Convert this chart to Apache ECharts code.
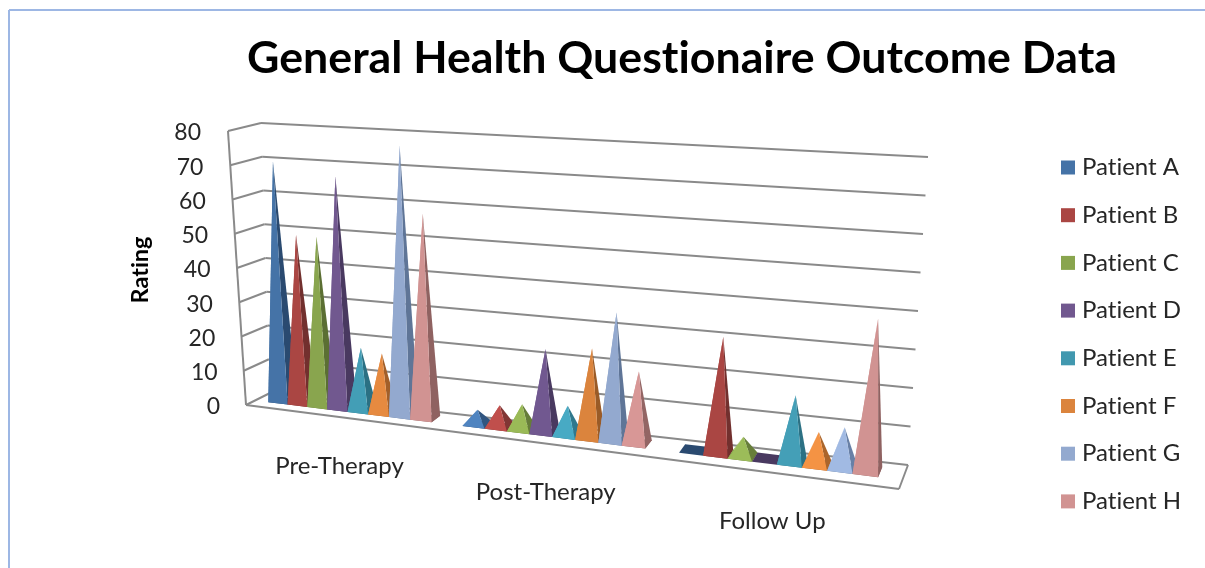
<!DOCTYPE html>
<html>
<head>
<meta charset="utf-8">
<style>html,body{margin:0;padding:0;background:#fff}#c{width:1205px;height:568px}</style>
<script src="https://cdn.jsdelivr.net/npm/echarts@6/dist/echarts.min.js"></script>
</head>
<body>
<div id="c"></div>
<script>
var categories = ['Pre-Therapy', 'Post-Therapy', 'Follow Up'];
var yTicks = [0, 10, 20, 30, 40, 50, 60, 70, 80];
var patientNames = ['Patient A', 'Patient B', 'Patient C', 'Patient D', 'Patient E', 'Patient F', 'Patient G', 'Patient H'];
var patientA = [70, 4, 0];
var patientB = [49, 6, 31];
var patientC = [49, 7, 5];
var patientD = [67, 23, 0];
var patientE = [18, 8, 17.5];
var patientF = [17, 24.5, 8.5];
var patientG = [77, 35, 10.5];
var patientH = [58, 19.5, 39.5];
var patients = [patientA, patientB, patientC, patientD, patientE, patientF, patientG, patientH];
var colors = ['#4573A7', '#AA4643', '#89A54E', '#71588F', '#4198AF', '#DB843D', '#93A9CF', '#D19392'];
var darks = ['#2A4A70', '#72302E', '#5B6F33', '#493960', '#2A6C7E', '#9A5B27', '#5F7597', '#8F6261'];

// Plain glyphs, no "ti" ligature in the canvas text
var getCtx = HTMLCanvasElement.prototype.getContext;
HTMLCanvasElement.prototype.getContext = function () {
  var ctx = getCtx.apply(this, arguments);
  if (ctx && 'textRendering' in ctx) { ctx.textRendering = 'optimizeSpeed'; }
  return ctx;
};

// Oblique view of the plot box, corners in screen space
var FL0 = [246, 405], FL1 = [228, 131], BL0 = [270, 393], BL1 = [261, 123];
var FR0 = [899, 489], FR1 = [928, 176], BR0 = [908, 465], BR1 = [928, 157];
var YMAX = 80, NCAT = categories.length;

function warp(t) {
  var near = Math.max(0, 1 - t);
  return -0.0075 + 0.2879 * t + 0.01475 * t * t + 0.006 * near * near;
}
function lerp(a, b, f) { return a + (b - a) * f; }
function lerp2(a, b, f) { return [lerp(a[0], b[0], f), lerp(a[1], b[1], f)]; }
// u: 0..1 along the front, d: depth 0..1, v: 0..1 of the value axis
function projectU(u, d, v) {
  var left = lerp2(lerp2(FL0, BL0, d), lerp2(FL1, BL1, d), v);
  var right = lerp2(lerp2(FR0, BR0, d), lerp2(FR1, BR1, d), v);
  return lerp2(left, right, u);
}
function project(t, d, v) { return projectU(warp(t), d, v); }
function norm(params, api, cat, val) {
  var p = api.coord([cat, val]), g = params.coordSys;
  return [(p[0] - g.x) / g.width * NCAT, (g.y + g.height - p[1]) / g.height];
}
function poly(points, fill) {
  return { type: 'polygon', silent: true, shape: { points: points }, style: { fill: fill } };
}
function line(a, b) {
  return { type: 'line', silent: true, shape: { x1: a[0], y1: a[1], x2: b[0], y2: b[1] },
    style: { stroke: '#8a8a8a', lineWidth: 2 } };
}

var startGap = 0.08, span = 0.85, D0 = 0.37, D1 = 0.8;
function pyramid(s) {
  return function (params, api) {
    var n = norm(params, api, api.value(0), api.value(1));
    var t0 = n[0] - 0.5 + startGap + span * s / patients.length;
    var t1 = t0 + span / patients.length;
    var f1 = project(t0, D0, 0), f2 = project(t1, D0, 0);
    var b1 = project(t0, D1, 0), b2 = project(t1, D1, 0);
    var base = poly([f1, f2, b2, b1], darks[s]);
    if (n[1] < 0.005) { return { type: 'group', children: [base] }; }
    var a = project((t0 + t1) / 2, (D0 + D1) / 2, n[1]);
    var lift = -0.18 * Math.max(0, 1 - n[1] / 0.3);
    var face = echarts.color.lift(colors[s], lift);
    var side = echarts.color.lift(darks[s], lift);
    return { type: 'group', children: [
      base,
      poly([f1, b1, a], face),
      poly([f2, b2, a], side),
      poly([f1, f2, a], face)
    ] };
  };
}
function frame(params, api) {
  var n = norm(params, api, 0, api.value(0));
  var v = n[1];
  var kids = [
    line(projectU(0, 0, v), projectU(0, 1, v)),
    line(projectU(0, 1, v), projectU(1, 1, v))
  ];
  if (api.value(0) === 0) {
    kids.push(line(projectU(0, 0, 0), projectU(1, 0, 0)));
    kids.push(line(projectU(1, 0, 0), projectU(1, 1, 0)));
    kids.push(line(projectU(0, 0, 0), projectU(0, 0, 1)));
  }
  return { type: 'group', children: kids };
}
function catLabel(params, api) {
  var n = norm(params, api, api.value(0), 0);
  var p = project(n[0], 0, 0);
  return { type: 'text', silent: true, style: {
    text: categories[api.value(0)], x: p[0] + 1, y: p[1] + 49,
    fill: '#262626', font: '24px Lato', align: 'center', verticalAlign: 'middle' } };
}

var rich = { v: { fontFamily: 'Lato', fontSize: 23, color: '#262626' } };
yTicks.forEach(function (k) { rich['s' + k] = { width: 19 * k / YMAX, fontSize: 23 }; });

var series = [
  { type: 'custom', name: 'frame', silent: true, z: 1, renderItem: frame,
    encode: { y: 0 }, data: yTicks.map(function (k) { return [k]; }) },
  { type: 'custom', name: 'labels', silent: true, z: 1, renderItem: catLabel,
    data: categories.map(function (c, i) { return [i]; }) }
];
patients.forEach(function (vals, s) {
  series.push({ type: 'custom', name: patientNames[s], z: 2 + s, silent: true,
    itemStyle: { color: colors[s] }, renderItem: pyramid(s), encode: { x: 0, y: 1 },
    data: vals.map(function (v, i) { return [i, v]; }) });
});

var chart = echarts.init(document.getElementById('c'), null, { renderer: 'canvas' });
chart.setOption({
  animation: false,
  backgroundColor: '#fff',
  title: { text: 'General Health Questionaire Outcome Data', left: 677, top: 31, textAlign: 'center',
    textStyle: { fontFamily: 'Lato', fontWeight: 'bold', fontSize: 44.7, color: '#000' } },
  graphic: [
    { type: 'line', silent: true, shape: { x1: 9, y1: 10, x2: 1205, y2: 10 }, style: { stroke: '#9DB7E4', lineWidth: 2 } },
    { type: 'line', silent: true, shape: { x1: 9, y1: 10, x2: 9, y2: 568 }, style: { stroke: '#9DB7E4', lineWidth: 2 } }
  ],
  legend: { orient: 'vertical', left: 1061, top: 155.5, padding: 0, icon: 'rect', itemWidth: 14, itemHeight: 14,
    itemGap: 23.7, data: patientNames, selectedMode: false,
    textStyle: { fontFamily: 'Lato', fontSize: 24, color: '#262626', padding: [0, 0, 0, 2] } },
  grid: { left: 228, top: 133, width: 700, height: 274 },
  xAxis: { type: 'category', data: categories, show: false },
  yAxis: { type: 'value', min: 0, max: YMAX, interval: 10, name: 'Rating', nameLocation: 'middle', nameRotate: 90, nameGap: 76,
    nameTextStyle: { fontFamily: 'Lato', fontWeight: 'bold', fontSize: 23.5, color: '#000' },
    axisLine: { show: false }, axisTick: { show: false }, splitLine: { show: false },
    axisLabel: { margin: 8, rich: rich, formatter: function (k) { return '{v|' + k + '}{s' + k + '| }'; } } },
  series: series
});
</script>
</body>
</html>
